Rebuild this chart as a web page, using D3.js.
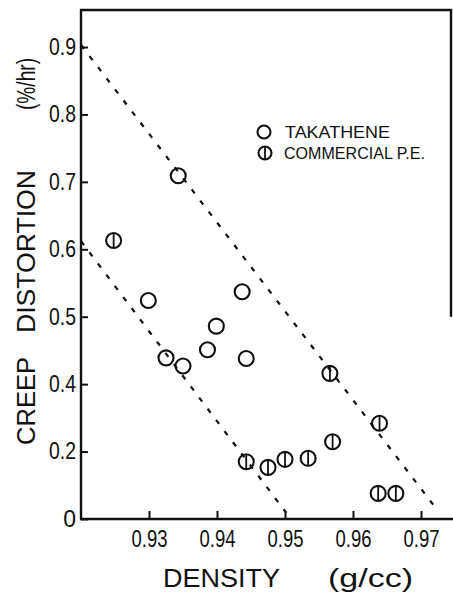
<!DOCTYPE html>
<html>
<head>
<meta charset="utf-8">
<script src="https://cdn.jsdelivr.net/npm/d3@7"></script>
<style>
  html, body { margin: 0; padding: 0; background: #fff; }
  svg { display: block; }
  text { font-family: "Liberation Sans", Arial, sans-serif; fill: #111; }
</style>
</head>
<body>
<svg id="chart" width="453" height="602"></svg>
<script>
// Creep distortion rate against density for two groups of polyethylene
const takatheneDensity = [0.9343, 0.9299, 0.9437, 0.9399, 0.9386, 0.9443, 0.9325, 0.9350];
const takatheneCreep   = [0.709, 0.524, 0.537, 0.486, 0.451, 0.438, 0.439, 0.427];

const commercialDensity = [0.9248, 0.9443, 0.9475, 0.9500, 0.9534, 0.9570, 0.9566, 0.9639, 0.9637, 0.9663];
const commercialCreep   = [0.613, 0.170, 0.153, 0.177, 0.180, 0.229, 0.416, 0.284, 0.076, 0.076];

// dashed trend lines: [start, end]
const takatheneTrendDensity  = [0.920, 0.9725];
const takatheneTrendCreep    = [0.903, 0.024];
const commercialTrendDensity = [0.920, 0.9502];
const commercialTrendCreep   = [0.612, 0.018];

const xTicks = [0.93, 0.94, 0.95, 0.96, 0.97];
const xTickLabels = ["0.93", "0.94", "0.95", "0.96", "0.97"];
const yTicks = [0, 0.2, 0.4, 0.5, 0.6, 0.7, 0.8, 0.9];
const yTickLabels = ["0", "0.2", "0.4", "0.5", "0.6", "0.7", "0.8", "0.9"];
const seriesNames = ["TAKATHENE", "COMMERCIAL P.E."];

// layout
const plotLeft = 81, plotBottom = 519, topTickY = 47, frameTop = 10, frameRight = 451;
const markR = 7.5;

const svg = d3.select("#chart");

const x = d3.scaleLinear().domain([0.92, 0.97]).range([plotLeft, 421]);
// the printed scale puts every labelled tick an equal distance apart
const yStep = (plotBottom - topTickY) / (yTicks.length - 1);
const y = d3.scaleLinear().domain(yTicks).range(yTicks.map((d, i) => plotBottom - i * yStep));

// frame: left axis, top edge, upper part of right edge
svg.append("path")
  .attr("d", `M${plotLeft},${plotBottom} V${frameTop} H${frameRight} V${y(0.5)}`)
  .attr("fill", "none").attr("stroke", "#111").attr("stroke-width", 2.4);
svg.append("line")
  .attr("x1", plotLeft - 1).attr("x2", 453)
  .attr("y1", plotBottom).attr("y2", plotBottom)
  .attr("stroke", "#111").attr("stroke-width", 2.6);

// y axis
const yAxis = svg.append("g")
  .attr("transform", `translate(${plotLeft},0)`)
  .call(d3.axisLeft(y).tickValues(yTicks).tickSize(-7).tickPadding(5)
    .tickFormat((d, i) => yTickLabels[i]));
yAxis.select(".domain").remove();
yAxis.selectAll(".tick line").attr("stroke", "#111").attr("stroke-width", 2);
yAxis.selectAll(".tick text")
  .attr("font-size", 23).attr("fill", "#111")
  .attr("font-family", "Liberation Sans, Arial, sans-serif")
  .each(function (d, i) {
    if (yTickLabels[i].length > 1) {
      d3.select(this).attr("textLength", 27).attr("lengthAdjust", "spacingAndGlyphs");
    }
  });

// x axis
const xAxis = svg.append("g")
  .attr("transform", `translate(0,${plotBottom})`)
  .call(d3.axisBottom(x).tickValues(xTicks).tickSize(-8)
    .tickFormat((d, i) => xTickLabels[i]));
xAxis.select(".domain").remove();
xAxis.selectAll(".tick line").attr("stroke", "#111").attr("stroke-width", 2);
xAxis.selectAll(".tick text")
  .attr("y", 28).attr("dy", 0)
  .attr("font-size", 24).attr("fill", "#111")
  .attr("font-family", "Liberation Sans, Arial, sans-serif")
  .attr("textLength", 36).attr("lengthAdjust", "spacingAndGlyphs");

// dashed trend lines
function trend(dens, creep) {
  svg.append("line")
    .attr("x1", x(dens[0])).attr("y1", y(creep[0]))
    .attr("x2", x(dens[1])).attr("y2", y(creep[1]))
    .attr("stroke", "#111").attr("stroke-width", 2.2)
    .attr("stroke-dasharray", "5,9");
}
trend(takatheneTrendDensity, takatheneTrendCreep);
trend(commercialTrendDensity, commercialTrendCreep);

// markers
function openCircle(g, cx, cy, r) {
  g.append("circle").attr("cx", cx).attr("cy", cy).attr("r", r)
    .attr("fill", "none").attr("stroke", "#111").attr("stroke-width", 2.1);
}
function barredCircle(g, cx, cy, r) {
  openCircle(g, cx, cy, r);
  g.append("line").attr("x1", cx).attr("x2", cx)
    .attr("y1", cy - r).attr("y2", cy + r)
    .attr("stroke", "#111").attr("stroke-width", 1.8);
}

const takG = svg.append("g");
takatheneDensity.forEach((d, i) => openCircle(takG, x(d), y(takatheneCreep[i]), markR));
const comG = svg.append("g");
commercialDensity.forEach((d, i) => barredCircle(comG, x(d), y(commercialCreep[i]), markR));

// legend
const legend = svg.append("g");
openCircle(legend, 264, 132, 6.5);
barredCircle(legend, 265, 153, 6.5);
legend.append("text").attr("x", 285).attr("y", 138).attr("font-size", 17)
  .attr("textLength", 105).attr("lengthAdjust", "spacingAndGlyphs").text(seriesNames[0]);
legend.append("text").attr("x", 284).attr("y", 159).attr("font-size", 17)
  .attr("textLength", 141).attr("lengthAdjust", "spacingAndGlyphs").text(seriesNames[1]);

// axis titles
const yTitle = svg.append("g").attr("transform", "translate(35,0)");
[["CREEP", 445, 88], ["DISTORTION", 333, 163], ["(%/hr)", 110, 52]].forEach(([t, start, len]) => {
  yTitle.append("text")
    .attr("transform", `translate(0,${start}) rotate(-90)`)
    .attr("font-size", 25)
    .attr("textLength", len).attr("lengthAdjust", "spacingAndGlyphs")
    .text(t);
});
[["DENSITY", 163, 117], ["(g/cc)", 328, 85]].forEach(([t, start, len]) => {
  svg.append("text")
    .attr("x", start).attr("y", 587)
    .attr("font-size", 25)
    .attr("textLength", len).attr("lengthAdjust", "spacingAndGlyphs")
    .text(t);
});
</script>
</body>
</html>
